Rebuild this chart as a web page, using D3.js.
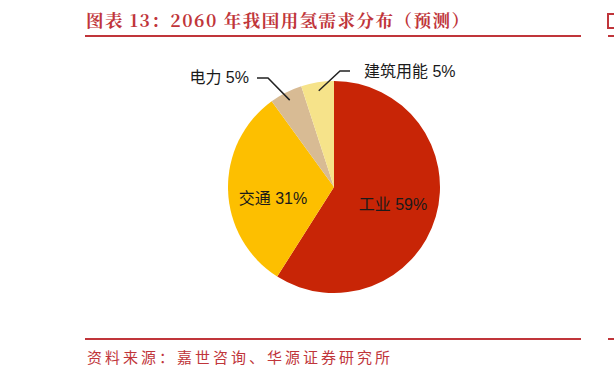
<!DOCTYPE html>
<html>
<head>
<meta charset="utf-8">
<script src="https://cdn.jsdelivr.net/npm/d3@7"></script>
<style>
  body { margin: 0; background: #fff; }
  svg { display: block; }
</style>
</head>
<body>
<div id="chart"></div>
<script>
const categories = ["工业", "交通", "电力", "建筑用能"];
const shares = [59, 31, 5, 5];
const colors = ["#C82506", "#FDBF00", "#D8BB94", "#F6E38A"];
const titleText = "图表 13：2060 年我国用氢需求分布（预测）";
const sourceText = "资料来源：嘉世咨询、华源证券研究所";

const W = 614, H = 378;
const red = "#C0353A";
const svg = d3.select("#chart").append("svg").attr("width", W).attr("height", H);

// header / footer
svg.append("text")
  .attr("x", 86).attr("y", 27)
  .attr("font-family", "'Noto Serif CJK SC', 'Noto Sans CJK SC', serif")
  .attr("font-weight", "bold").attr("font-size", 17.5)
  .attr("fill", red)
  .attr("textLength", 383).attr("lengthAdjust", "spacing")
  .text(titleText);
// edge of the neighbouring chart's title
svg.append("rect").attr("x", 608).attr("y", 14).attr("width", 8).attr("height", 14)
  .attr("fill", "none").attr("stroke", red).attr("stroke-width", 2);
[[85, 581], [608, 620]].forEach(([a, b]) => {
  svg.append("line").attr("x1", a).attr("x2", b).attr("y1", 36).attr("y2", 36)
    .attr("stroke", red).attr("stroke-width", 2);
  svg.append("line").attr("x1", a).attr("x2", b).attr("y1", 339).attr("y2", 339)
    .attr("stroke", red).attr("stroke-width", 2);
});
svg.append("text")
  .attr("x", 87).attr("y", 363)
  .attr("font-family", "'Noto Sans CJK SC', sans-serif")
  .attr("font-size", 15).attr("fill", red)
  .attr("textLength", 303).attr("lengthAdjust", "spacing")
  .text(sourceText);

// pie
const cx = 334, cy = 187, r = 106;
const data = categories.map((c, i) => ({ name: c, value: shares[i], color: colors[i] }));
const pie = d3.pie().value(d => d.value).sort(null);
const arcs = pie(data);
const arc = d3.arc().innerRadius(0).outerRadius(r);
const g = svg.append("g").attr("transform", `translate(${cx},${cy})`);

g.selectAll("path.slice")
  .data(arcs)
  .join("path")
  .attr("class", "slice")
  .attr("d", arc)
  .attr("fill", d => d.data.color);

const labelFont = "'Liberation Sans', Arial, 'Noto Sans CJK SC', sans-serif";
const labelSize = 16;

// inside labels
const insideOffsets = { "工业": [59, 19], "交通": [-61, 13] };
arcs.filter(d => insideOffsets[d.data.name]).forEach(d => {
  const [dx, dy] = insideOffsets[d.data.name];
  g.append("text")
    .attr("x", dx).attr("y", dy)
    .attr("text-anchor", "middle")
    .attr("dominant-baseline", "middle")
    .attr("font-family", labelFont).attr("font-size", labelSize)
    .attr("fill", "#1a1a1a")
    .text(`${d.data.name} ${d.data.value}%`);
});

// outside labels with leader lines
const edge = d3.arc().innerRadius(r * 0.92).outerRadius(r * 0.92);
const outside = {
  "电力": { elbow: [-66, -109], end: [-77, -109], text: [-85, -104], anchor: "end" },
  "建筑用能": { elbow: [6, -116], end: [16, -116], text: [30, -110], anchor: "start" }
};
arcs.filter(d => outside[d.data.name]).forEach(d => {
  const o = outside[d.data.name];
  const p = edge.centroid(d);
  g.append("polyline")
    .attr("points", [p, o.elbow, o.end].map(q => q.join(",")).join(" "))
    .attr("fill", "none").attr("stroke", "#222").attr("stroke-width", 1.5);
  g.append("text")
    .attr("x", o.text[0]).attr("y", o.text[1])
    .attr("text-anchor", o.anchor)
    .attr("font-family", labelFont).attr("font-size", labelSize)
    .attr("fill", "#1a1a1a")
    .text(`${d.data.name} ${d.data.value}%`);
});
</script>
</body>
</html>
